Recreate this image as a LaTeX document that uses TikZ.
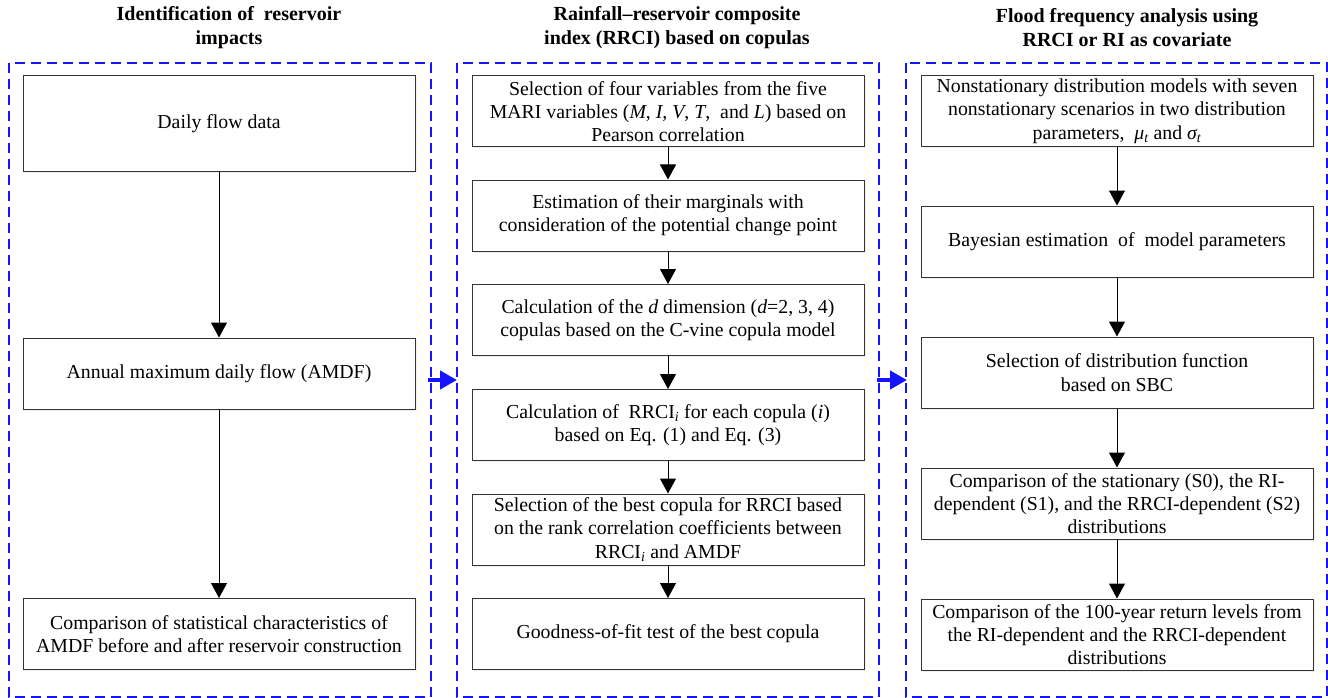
\documentclass[tikz,border=0pt]{standalone}
\usepackage{fontspec}
\setmainfont{Liberation Serif}
\usetikzlibrary{arrows.meta,shadows}
\definecolor{framecol}{RGB}{20,20,255}
\begin{document}
\begin{tikzpicture}[x=1pt,y=-1pt,
  box/.style={draw=black!80, line width=1pt, fill=white, minimum width=392pt, minimum height=71pt,
    align=center, inner sep=1pt, font=\fontsize{19.8}{23.3}\selectfont,
    drop shadow={shadow xshift=1.5pt,shadow yshift=-1.5pt,opacity=0.12}},
  frame/.style={draw=framecol, dash pattern=on 10pt off 6pt, line width=1.25pt},
  flow/.style={-{Triangle[width=16pt,length=15pt]}, line width=1pt},
  link/.style={-{Triangle[width=18pt,length=17pt]}, draw=framecol, fill=framecol, line width=4.5pt},
  title/.style={font=\bfseries\fontsize{20}{24}\selectfont, align=center}]
\useasboundingbox (0,0) rectangle (1328,698);

% titles
\node[title] (t1) at (229,28) {Identification of~ reservoir\\impacts};
\node[title] (t2) at (677,28) {Rainfall–reservoir composite\\index (RRCI) based on copulas};
\node[title] (t3) at (1127,28) {Flood frequency analysis using\\RRCI or RI as covariate};

% frames
\draw[frame] (9,63) rectangle (431,697);
\draw[frame] (457,63) rectangle (879,697);
\draw[frame] (906,63) rectangle (1327,697);

% left column
\node[box, minimum height=95pt] (L1) at (219,123.5) {Daily flow data};
\node[box] (L2) at (219,373.5) {Annual maximum daily flow (AMDF)};
\node[box] (L3) at (219,634) {Comparison of statistical characteristics of\\AMDF before and after reservoir construction};

% middle column
\node[box] (M1) at (668,111.5) {Selection of four variables from the five\\MARI variables (\textit{M}, \textit{I}, \textit{V}, \textit{T},~ and \textit{L}) based on\\Pearson correlation};
\node[box] (M2) at (668,215.5) {Estimation of their marginals with\\consideration of the potential change point};
\node[box] (M3) at (668,320) {Calculation of the \textit{d} dimension (\textit{d}=2, 3, 4)\\copulas based on the C-vine copula model};
\node[box] (M4) at (668,425) {Calculation of~ RRCI\textsubscript{\textit{i}} for each copula (\textit{i})\\based on Eq. (1) and Eq. (3)};
\node[box] (M5) at (668,529.5) {Selection of the best copula for RRCI based\\on the rank correlation coefficients between\\RRCI\textsubscript{\textit{i}} and AMDF};
\node[box] (M6) at (668,634) {Goodness-of-fit test of the best copula};

% right column
\node[box] (R1) at (1117,111) {Nonstationary distribution models with seven\\nonstationary scenarios in two distribution\\parameters,~ \textit{μ\textsubscript{t}} and \textit{σ\textsubscript{t}}};
\node[box] (R2) at (1117,241.5) {Bayesian estimation~ of~ model parameters};
\node[box] (R3) at (1117,372.5) {Selection of distribution function\\based on SBC};
\node[box] (R4) at (1117,503.5) {Comparison of the stationary (S0), the RI-\\dependent (S1), and the RRCI-dependent (S2)\\distributions};
\node[box] (R5) at (1117,634.5) {Comparison of the 100-year return levels from\\the RI-dependent and the RRCI-dependent\\distributions};

% flow arrows
\draw[flow] (L1) -- (L2);
\draw[flow] (L2) -- (L3);
\draw[flow] (M1) -- (M2);
\draw[flow] (M2) -- (M3);
\draw[flow] (M3) -- (M4);
\draw[flow] (M4) -- (M5);
\draw[flow] (M5) -- (M6);
\draw[flow] (R1) -- (R2);
\draw[flow] (R2) -- (R3);
\draw[flow] (R3) -- (R4);
\draw[flow] (R4) -- (R5);

% links between stages
\coordinate (a1) at (428,380);
\coordinate (a2) at (457,380);
\coordinate (b1) at (877,380);
\coordinate (b2) at (907,380);
\draw[link] (a1) -- (a2);
\draw[link] (b1) -- (b2);
\end{tikzpicture}
\end{document}
